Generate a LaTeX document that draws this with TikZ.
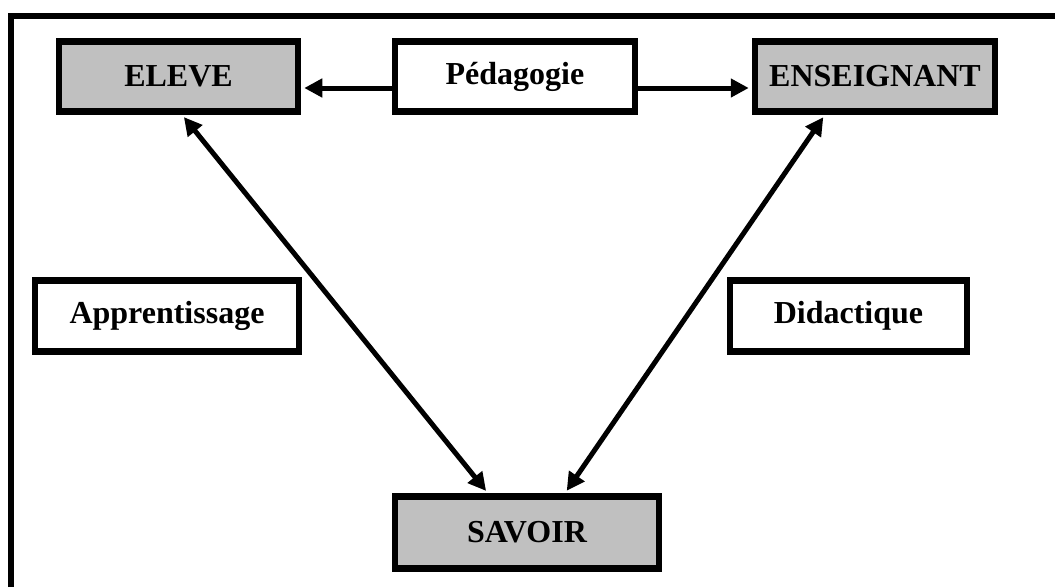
\documentclass[tikz,border=0pt]{standalone}
\usepackage{fontspec}
\setmainfont{Liberation Serif}
\usetikzlibrary{arrows.meta}
\definecolor{boxgray}{RGB}{192,192,192}
\begin{document}
\begin{tikzpicture}[x=1pt,y=-1pt,
        box/.style={draw,line width=6.5pt,rectangle,inner sep=0pt,
            font=\fontsize{32}{36}\selectfont\bfseries},
        pole/.style={box,fill=boxgray},
        arr/.style={line width=5pt,-{Triangle[length=18pt,width=18pt]},shorten >=3pt},
        darr/.style={line width=5pt,{Triangle[length=18pt,width=18pt]}-{Triangle[length=18pt,width=18pt]},
            shorten >=3pt,shorten <=3pt}]
        \useasboundingbox (0,0) rectangle (1055,587);
        %% frame
        \draw[line width=5.5pt] (11,587) -- (11,16) -- (1055,16);
        %% poles of the triangle
        \node[pole,minimum width=239pt,minimum height=70pt] (eleve) at (178.5,76.5) {ELEVE};
        \node[pole,minimum width=240pt,minimum height=70pt] (enseignant) at (875,76.5) {ENSEIGNANT};
        \node[pole,minimum width=264pt,minimum height=72pt] (savoir) at (527,532.5) {SAVOIR};
        %% relations
        \node[box,fill=white,minimum width=240pt,minimum height=70pt] (pedagogie) at (515,76.5) {Pédagogie};
        \node[box,minimum width=264pt,minimum height=71pt] (apprentissage) at (167,316) {Apprentissage};
        \node[box,minimum width=237pt,minimum height=71pt] (didactique) at (848.5,316) {Didactique};
        %% arrows
        \draw[arr] ([yshift=-11.5pt]pedagogie.west) -- ([yshift=-11.5pt]eleve.east);
        \draw[arr] ([yshift=-11.5pt]pedagogie.east) -- ([yshift=-11.5pt]enseignant.west);
        \draw[darr] ([xshift=3.5pt]eleve.south) -- ([xshift=-39pt]savoir.north);
        \draw[darr] ([xshift=-50pt]enseignant.south) -- ([xshift=38pt]savoir.north);
    \end{tikzpicture}
\end{document}
